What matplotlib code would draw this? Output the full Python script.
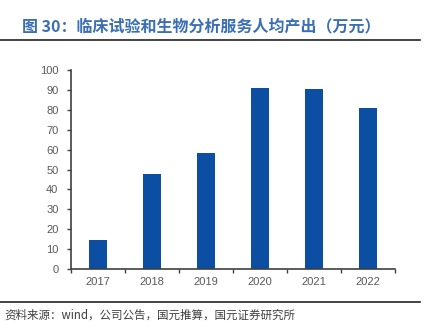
import matplotlib
matplotlib.use("Agg")
import matplotlib.pyplot as plt
from matplotlib.lines import Line2D

plt.rcParams['font.family'] = ['Noto Sans CJK SC', 'DejaVu Sans']

years = ["2017", "2018", "2019", "2020", "2021", "2022"]
output_per_person = [14.8, 48.0, 58.5, 91.2, 90.2, 80.8]
yticks = [0, 10, 20, 30, 40, 50, 60, 70, 80, 90, 100]

title = "图 30：临床试验和生物分析服务人均产出（万元）"
source = "资料来源：wind，公司公告，国元推算，国元证券研究所"

fig = plt.figure(figsize=(4.29, 3.27), dpi=100)
ax = fig.add_axes([0.1655, 0.177, 0.7555, 0.609])

x = range(len(years))
ax.bar(x, output_per_person, width=0.33, color="#0b4ea2", zorder=2)

ax.set_xlim(-0.5, len(years) - 0.5)
ax.set_ylim(0, 100)
ax.set_yticks(yticks)
ax.set_xticks(list(x))
ax.set_xticklabels(years)
# boundary ticks between categories
ax.set_xticks([i - 0.5 for i in range(len(years) + 1)], minor=True)
ax.tick_params(axis="x", which="major", length=0, pad=6, labelsize=8, labelcolor="#595959")
ax.tick_params(axis="x", which="minor", length=3, width=1, color="#404040", direction="out")
ax.tick_params(axis="y", length=3, width=1, color="#404040", direction="out", pad=6,
               labelsize=8, labelcolor="#595959")
for lab in ax.get_xticklabels() + ax.get_yticklabels():
    lab.set_family(["Liberation Sans", "DejaVu Sans"])

for side in ["top", "right"]:
    ax.spines[side].set_visible(False)
for side in ["left", "bottom"]:
    ax.spines[side].set_color("#404040")
    ax.spines[side].set_linewidth(1.2)

fig.text(0.051, 0.92, title, fontsize=11.5, fontweight="bold", color="#3a6fb5",
         va="center", ha="left")
fig.add_artist(Line2D([0.0, 0.98], [0.877, 0.877], color="#222222", lw=1.2,
                      transform=fig.transFigure))
fig.add_artist(Line2D([0.0, 0.98], [0.077, 0.077], color="#222222", lw=1.2,
                      transform=fig.transFigure))
fig.text(0.01, 0.035, source, fontsize=8.3, color="#404040", va="center", ha="left")

fig.savefig("out.png", dpi=100)
